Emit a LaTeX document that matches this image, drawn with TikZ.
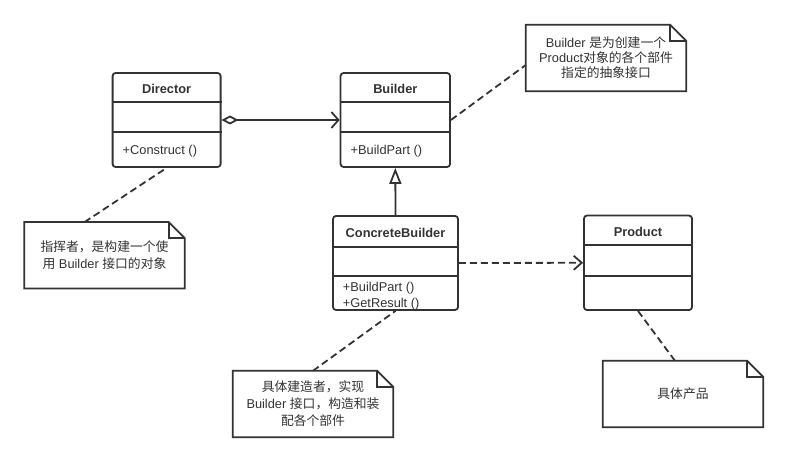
\documentclass[tikz,border=0pt]{standalone}
\usepackage{fontspec}
\setmainfont{Liberation Sans}
\newfontfamily\cjk{Noto Sans CJK SC}
\usetikzlibrary{arrows.meta}
\definecolor{ink}{HTML}{333333}
\newcommand\dogear[1]{%
  \draw[notepath] (#1.south west) -- (#1.north west) -- ([xshift=-16pt]#1.north east)
    -- ([yshift=-16pt]#1.north east) -- (#1.south east) -- cycle;
  \draw[notepath] ([xshift=-16pt]#1.north east) |- ([yshift=-16pt]#1.north east);}
\begin{document}
\begin{tikzpicture}[x=1pt,y=-1pt,
  classbox/.style={draw=ink, line width=1.8pt, rounded corners=3pt, inner sep=0pt},
  sepline/.style={draw=ink, line width=1.8pt},
  lbl/.style={text=ink, font=\fontsize{12.8}{15}\selectfont, inner sep=0pt, anchor=base west},
  hdr/.style={text=ink, font=\fontsize{12.8}{15}\selectfont\bfseries, inner sep=0pt, anchor=base},
  notebox/.style={text=ink, align=center, inner sep=0pt, minimum width=160pt, minimum height=66pt, font=\fontsize{12.8}{17}\selectfont},
  notepath/.style={draw=ink, line width=1.8pt, line join=miter},
  dashline/.style={draw=ink, line width=1.8pt, dash pattern=on 7pt off 4pt},
  assoc/.style={draw=ink, line width=1.8pt, {Diamond[open,length=17pt,width=9pt]}-{Straight Barb[length=7pt,width=16pt]}},
  gen/.style={draw=ink, line width=1.8pt, -{Triangle[open,length=16pt,width=12pt]}},
  dep/.style={draw=ink, line width=1.8pt, dash pattern=on 7pt off 4pt, -{Straight Barb[length=8pt,width=14pt]}}
]
\useasboundingbox[fill=white] (0,0) rectangle (788,462);

% classes
\node[classbox, minimum width=108pt, minimum height=94pt] (director) at (166.6,120) {};
\node[classbox, minimum width=109.5pt, minimum height=94pt] (builder) at (395.3,120) {};
\node[classbox, minimum width=125pt, minimum height=94pt] (cb) at (395.5,263) {};
\node[classbox, minimum width=108pt, minimum height=94.5pt] (product) at (638,262.8) {};

\draw[sepline] ([yshift=-30pt]director.north west) -- ([yshift=-30pt]director.north east);
\draw[sepline] ([yshift=-60pt]director.north west) -- ([yshift=-60pt]director.north east);
\draw[sepline] ([yshift=-30pt]builder.north west) -- ([yshift=-30pt]builder.north east);
\draw[sepline] ([yshift=-60pt]builder.north west) -- ([yshift=-60pt]builder.north east);
\draw[sepline] ([yshift=-32pt]cb.north west) -- ([yshift=-32pt]cb.north east);
\draw[sepline] ([yshift=-61pt]cb.north west) -- ([yshift=-61pt]cb.north east);
\draw[sepline] ([yshift=-30.5pt]product.north west) -- ([yshift=-30.5pt]product.north east);
\draw[sepline] ([yshift=-61pt]product.north west) -- ([yshift=-61pt]product.north east);

\node[hdr] (directorname) at (166.6,93.1) {Director};
\node[lbl] (directorop) at (122.5,154.1) {+Construct ()};
\node[hdr] (buildername) at (395.3,93.1) {Builder};
\node[lbl] (builderop) at (350.5,154.1) {+BuildPart ()};
\node[hdr] (cbname) at (395.5,237.1) {ConcreteBuilder};
\node[lbl] (cbop1) at (342.7,291.6) {+BuildPart ()};
\node[lbl] (cbop2) at (342.7,307.6) {+GetResult ()};
\node[hdr] (productname) at (638,236.1) {Product};

% notes
\node[notebox, font=\fontsize{12.8}{15}\selectfont] (bnote) at (606,58) {Builder {\cjk 是为创建一个}\\Product{\cjk 对象的各个部件}\\{\cjk 指定的抽象接口}};
\dogear{bnote}
\node[notebox] (dnote) at (104.5,255.3) {{\cjk 指挥者，是构建一个使}\\{\cjk 用} Builder {\cjk 接口的对象}};
\dogear{dnote}
\node[notebox] (cbnote) at (313,404) {{\cjk 具体建造者，实现}\\Builder {\cjk 接口，构造和装}\\{\cjk 配各个部件}};
\dogear{cbnote}
\node[notebox] (pnote) at (683,394) {{\cjk 具体产品}};
\dogear{pnote}

% connectors
\draw[assoc] (director.east) -- (builder.west);
\draw[gen] (cb.north) -- (builder.south);
\draw[dep] (cb.east) -- (product.west);
\draw[dashline] ([xshift=-20pt]dnote.north) -- (director.south);
\draw[dashline] (builder.east) -- ([yshift=-7pt]bnote.west);
\draw[dashline] (cbnote.north) -- (cb.south);
\draw[dashline] (product.south) -- ([xshift=-8pt]pnote.north);
\end{tikzpicture}
\end{document}
